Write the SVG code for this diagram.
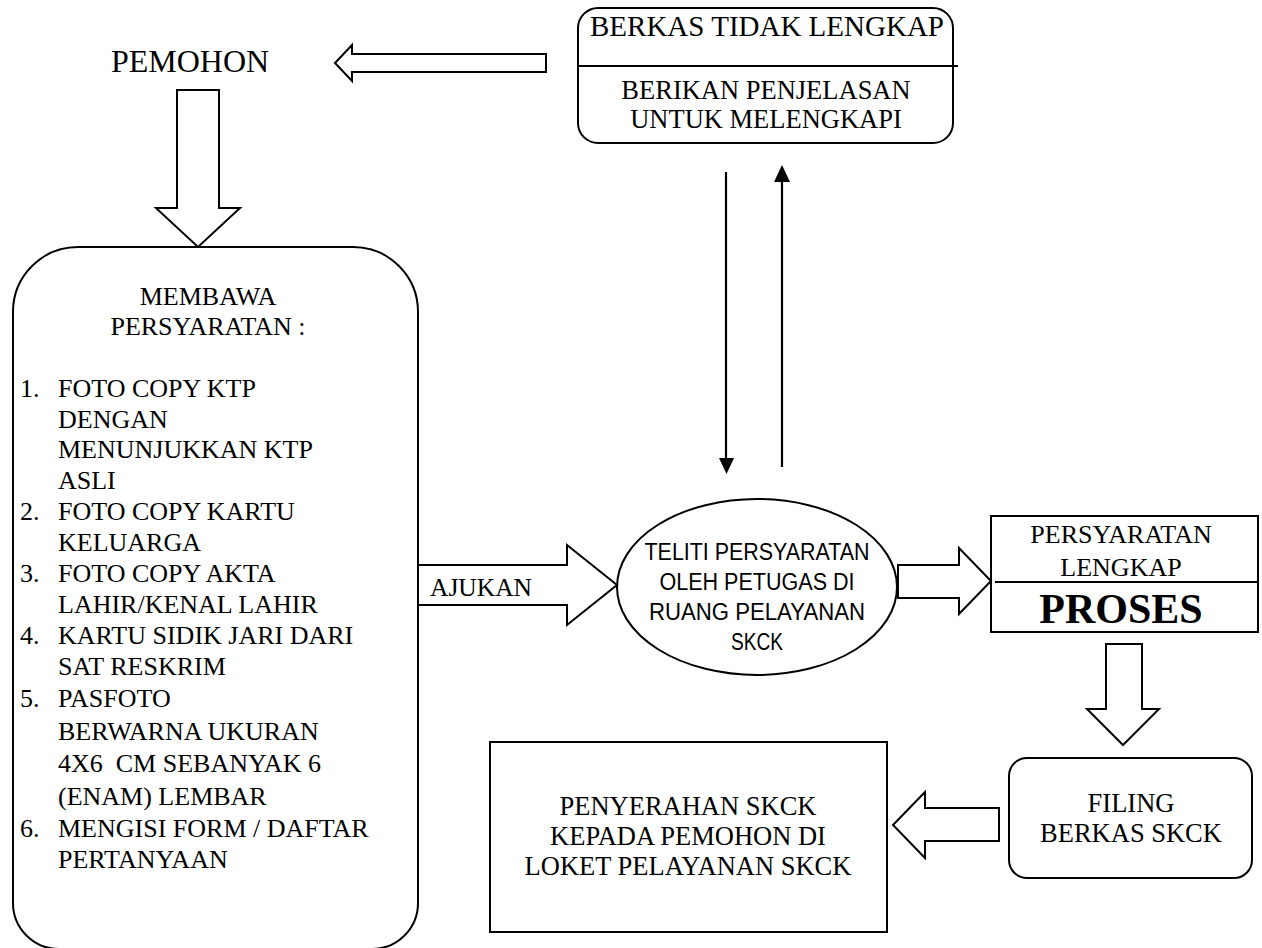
<svg xmlns="http://www.w3.org/2000/svg" width="1262" height="948" viewBox="0 0 1262 948">
<style>
.s{fill:none;stroke:#000;stroke-width:2}
.w{fill:#fff;stroke:#000;stroke-width:2;stroke-linejoin:miter}
.t{font-family:"Liberation Serif","Times New Roman",serif;font-size:26px;fill:#000}
.c{text-anchor:middle}
.k{font-family:"Liberation Sans",Arial,sans-serif;font-size:23px;fill:#000;text-anchor:middle}
.l{stroke:#000;stroke-width:2.2;fill:none}
</style>
<rect width="1262" height="948" fill="#fff"/>
<g id="connectors">
<polygon class="w" points="335,63 352,45 352,54 546,54 546,72 352,72 352,81"/>
<polygon class="w" points="177,90 219,90 219,208 240,208 198,247 156,208 177,208"/>
<line class="l" x1="726" y1="172" x2="726" y2="459"/>
<polygon points="719,458 734,458 726.5,474" fill="#000"/>
<line class="l" x1="782" y1="467" x2="782" y2="181"/>
<polygon points="774,182 790,182 782,165" fill="#000"/>
<polygon class="w" points="418,565 567,565 567,545 617,585 567,625 567,605 418,605"/>
<polygon class="w" points="898,565 959,565 959,548 991,581 959,614 959,598 898,598"/>
<polygon class="w" points="1106,644 1142,644 1142,709 1159,709 1123,745 1087,709 1106,709"/>
<polygon class="w" points="893,825 925,792 925,808 999,808 999,841 925,841 925,858"/>
</g>
<g id="pemohon">
<text class="t c" x="190" y="72" style="font-size:32px">PEMOHON</text>
</g>
<g id="berkas-tidak-lengkap">
<rect class="s" x="578" y="8" width="375" height="135" rx="20"/>
<line class="s" x1="578" y1="66" x2="958" y2="66"/>
<text class="t c" x="767" y="36" style="font-size:29px">BERKAS TIDAK LENGKAP</text>
<text class="t c" x="766" y="99" style="font-size:26.5px">BERIKAN PENJELASAN</text>
<text class="t c" x="766" y="128" style="font-size:26.5px">UNTUK MELENGKAPI</text>
</g>
<g id="membawa-persyaratan">
<path class="s" d="M13,312 A65,65 0 0 1 78,247 L353,247 A65,65 0 0 1 418,312 L418,903 A46,46 0 0 1 372,949 L59,949 A46,46 0 0 1 13,903 Z"/>
<text class="t c" x="208" y="305">MEMBAWA</text>
<text class="t c" x="208" y="335">PERSYARATAN :</text>
<text class="t" x="20" y="397">1.</text>
<text class="t" x="58" y="397">FOTO COPY KTP</text>
<text class="t" x="58" y="428">DENGAN</text>
<text class="t" x="58" y="458">MENUNJUKKAN KTP</text>
<text class="t" x="58" y="489">ASLI</text>
<text class="t" x="20" y="520">2.</text>
<text class="t" x="58" y="520">FOTO COPY KARTU</text>
<text class="t" x="58" y="551">KELUARGA</text>
<text class="t" x="20" y="582">3.</text>
<text class="t" x="58" y="582">FOTO COPY AKTA</text>
<text class="t" x="58" y="613">LAHIR/KENAL LAHIR</text>
<text class="t" x="20" y="644">4.</text>
<text class="t" x="58" y="644">KARTU SIDIK JARI DARI</text>
<text class="t" x="58" y="675">SAT RESKRIM</text>
<text class="t" x="20" y="707">5.</text>
<text class="t" x="58" y="707">PASFOTO</text>
<text class="t" x="58" y="740">BERWARNA UKURAN</text>
<text class="t" x="58" y="772" style="white-space:pre">4X6  CM SEBANYAK 6</text>
<text class="t" x="58" y="805">(ENAM) LEMBAR</text>
<text class="t" x="20" y="837">6.</text>
<text class="t" x="58" y="837">MENGISI FORM / DAFTAR</text>
<text class="t" x="58" y="868">PERTANYAAN</text>
</g>
<g id="ajukan-label">
<text class="t" x="430" y="596" style="font-size:25.5px">AJUKAN</text>
</g>
<g id="teliti-persyaratan">
<ellipse class="s" cx="757" cy="587" rx="140" ry="88"/>
<text class="k" x="757" y="560" textLength="225" lengthAdjust="spacingAndGlyphs">TELITI PERSYARATAN</text>
<text class="k" x="757" y="590" textLength="195" lengthAdjust="spacingAndGlyphs">OLEH PETUGAS DI</text>
<text class="k" x="757" y="620" textLength="216" lengthAdjust="spacingAndGlyphs">RUANG PELAYANAN</text>
<text class="k" x="757" y="650" textLength="52" lengthAdjust="spacingAndGlyphs">SKCK</text>
</g>
<g id="persyaratan-lengkap">
<rect class="s" x="991" y="516" width="267" height="116"/>
<line class="s" x1="995" y1="582" x2="1258" y2="582"/>
<text class="t c" x="1121" y="543">PERSYARATAN</text>
<text class="t c" x="1121" y="576">LENGKAP</text>
<text class="t c" x="1121" y="623" style="font-size:42px;font-weight:bold">PROSES</text>
</g>
<g id="filing">
<rect class="s" x="1009" y="758" width="243" height="120" rx="18"/>
<text class="t c" x="1131" y="812" style="font-size:26.5px">FILING</text>
<text class="t c" x="1131" y="842" style="font-size:26.5px">BERKAS SKCK</text>
</g>
<g id="penyerahan">
<rect class="s" x="490" y="742" width="397" height="190"/>
<text class="t c" x="688" y="815" style="font-size:26.5px">PENYERAHAN SKCK</text>
<text class="t c" x="688" y="845" style="font-size:26.5px">KEPADA PEMOHON DI</text>
<text class="t c" x="688" y="875" style="font-size:26.5px">LOKET PELAYANAN SKCK</text>
</g>
</svg>
